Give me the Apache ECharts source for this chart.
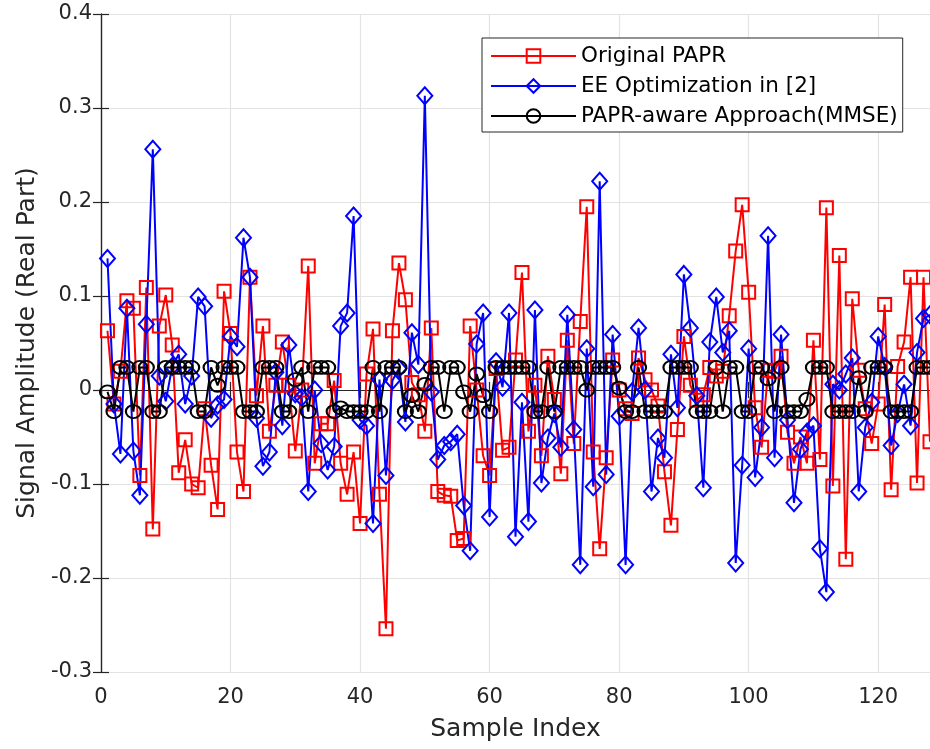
<!DOCTYPE html>
<html>
<head>
<meta charset="utf-8">
<script src="https://cdn.jsdelivr.net/npm/echarts@6/dist/echarts.min.js"></script>
<style>
html,body{margin:0;padding:0;background:#fff;}
#chart{width:930px;height:749px;}
</style>
</head>
<body>
<div id="chart"></div>
<script>
// ---- data ----
var seriesNames = ['Original PAPR', 'EE Optimization in [2]', 'PAPR-aware Approach(MMSE)'];
var xTicks = [0, 20, 40, 60, 80, 100, 120];
var yTicks = [-0.3, -0.2, -0.1, 0, 0.1, 0.2, 0.3, 0.4];

var originalPAPR = [
  0.063, -0.015, 0.020, 0.095, 0.087, -0.091, 0.109, -0.148, 0.068, 0.101,
  0.048, -0.088, -0.053, -0.100, -0.104, -0.020, -0.080, -0.127, 0.105, 0.060,
  -0.066, -0.108, 0.120, -0.006, 0.068, -0.044, 0.005, 0.051, 0.005, -0.065,
  0.000, 0.132, -0.078, -0.036, -0.036, 0.010, -0.078, -0.111, -0.066, -0.142,
  0.017, 0.065, -0.111, -0.254, 0.063, 0.135, 0.096, 0.008, -0.005, -0.044,
  0.066, -0.108, -0.112, -0.113, -0.160, -0.158, 0.068, 0.000, -0.070, -0.091,
  0.023, -0.064, -0.061, 0.032, 0.125, -0.044, 0.005, -0.070, 0.036, -0.010,
  -0.089, 0.053, -0.057, 0.073, 0.195, -0.066, -0.169, -0.072, 0.032, 0.000,
  -0.020, -0.025, 0.034, 0.011, 0.000, -0.017, -0.087, -0.144, -0.042, 0.057,
  0.005, -0.011, -0.005, 0.024, 0.015, 0.020, 0.079, 0.148, 0.197, 0.104,
  -0.019, -0.061, 0.021, 0.020, 0.036, -0.045, -0.078, -0.050, -0.078, 0.053,
  -0.074, 0.194, -0.102, 0.143, -0.180, 0.097, 0.021, -0.020, -0.057, -0.015,
  0.091, -0.106, 0.025, 0.051, 0.120, -0.099, 0.120, -0.055
];

var eeOptimization = [
  0.140, -0.015, -0.068, 0.087, -0.065, -0.112, 0.070, 0.256, 0.015, -0.012,
  0.025, 0.038, -0.015, 0.015, 0.099, 0.089, -0.030, -0.016, -0.010, 0.057,
  0.046, 0.162, 0.120, -0.030, -0.081, -0.066, 0.019, -0.038, 0.048, -0.004,
  -0.008, -0.108, 0.000, -0.057, -0.085, -0.060, 0.068, 0.082, 0.185, -0.032,
  -0.038, -0.142, 0.011, -0.091, 0.010, 0.023, -0.034, 0.061, 0.027, 0.313,
  -0.002, -0.074, -0.059, -0.055, -0.047, -0.123, -0.171, 0.049, 0.082, -0.135,
  0.030, 0.003, 0.082, -0.156, -0.013, -0.140, 0.085, -0.099, -0.051, -0.025,
  -0.061, 0.080, -0.042, -0.186, 0.044, -0.103, 0.222, -0.090, 0.059, -0.028,
  -0.186, -0.002, 0.066, 0.000, -0.108, -0.051, -0.072, 0.038, -0.019, 0.123,
  0.066, -0.006, -0.104, 0.051, 0.099, 0.040, 0.063, -0.184, -0.080, 0.044,
  -0.093, -0.040, 0.164, -0.072, 0.059, -0.032, -0.120, -0.063, -0.045, -0.038,
  -0.169, -0.215, 0.006, 0.000, 0.017, 0.034, -0.108, -0.040, -0.013, 0.057,
  0.025, -0.059, -0.025, 0.006, -0.038, 0.040, 0.076, 0.080
];

var paprAware = [
  -0.002, -0.023, 0.024, 0.024, -0.023, 0.024, 0.024, -0.023, -0.023, 0.024,
  0.024, 0.024, 0.024, 0.024, -0.023, -0.023, 0.024, 0.005, 0.024, 0.024,
  0.024, -0.023, -0.023, -0.023, 0.024, 0.024, 0.024, -0.023, -0.023, 0.011,
  0.024, -0.023, 0.024, 0.024, 0.024, -0.023, -0.019, -0.023, -0.023, -0.023,
  -0.023, 0.024, -0.023, 0.024, 0.024, 0.024, -0.023, -0.006, -0.023, 0.006,
  0.024, 0.024, -0.023, 0.024, 0.024, -0.002, -0.023, 0.017, -0.006, -0.023,
  0.024, 0.024, 0.024, 0.024, 0.024, 0.024, -0.023, -0.023, 0.024, -0.023,
  0.024, 0.024, 0.024, 0.024, 0.000, 0.024, 0.024, 0.024, 0.024, 0.002,
  -0.023, -0.023, 0.024, -0.023, -0.023, -0.023, -0.023, 0.024, 0.024, 0.024,
  0.024, -0.023, -0.023, -0.023, 0.024, -0.023, 0.024, 0.024, -0.023, -0.023,
  0.024, 0.024, 0.012, -0.023, 0.024, -0.023, -0.023, -0.023, -0.010, 0.024,
  0.024, 0.024, -0.023, -0.023, -0.023, -0.023, 0.013, -0.023, 0.024, 0.024,
  0.024, -0.023, -0.023, -0.023, -0.023, 0.024, 0.024, 0.024
];

// sample indices 1..N
var sampleIndex = originalPAPR.map(function (_, k) { return k + 1; });

function pairs(vals) { return vals.map(function (v, k) { return [sampleIndex[k], v]; }); }

var FONT = '"DejaVu Sans", Verdana, sans-serif';
var AX = '#262626';
var GRIDC = '#e3e3e3';

function mkSeries(name, vals, color, symbol, size) {
  return {
    name: name, type: 'line', data: pairs(vals),
    symbol: symbol, symbolSize: size, showAllSymbol: true,
    lineStyle: { color: color, width: 2 },
    itemStyle: { color: 'rgba(255,255,255,0)', borderColor: color, borderWidth: 2 },
    emphasis: { disabled: true },
    animation: false
  };
}

var chart = echarts.init(document.getElementById('chart'), null, { renderer: 'canvas' });
chart.setOption({
  animation: false,
  backgroundColor: '#fff',
  grid: { left: 101, top: 14, width: 834, height: 658, containLabel: false },
  legend: {
    orient: 'vertical', left: 482, top: 38,
    itemWidth: 85, itemHeight: 17, itemGap: 8,
    backgroundColor: '#fff', borderColor: AX, borderWidth: 1,
    padding: [7, 5, 5, 8],
    textStyle: { fontSize: 21.5, color: '#000', fontFamily: FONT },
    data: seriesNames
  },
  xAxis: [{
    type: 'value', min: 0, max: 128, interval: 20,
    name: 'Sample Index', nameLocation: 'middle', nameGap: 45,
    nameTextStyle: { fontSize: 25, color: '#262626', fontFamily: FONT },
    axisLine: { show: true, lineStyle: { color: AX, width: 1.2 } },
    axisTick: { show: true, inside: true, length: 8, lineStyle: { color: AX, width: 1.2 } },
    axisLabel: { fontSize: 21, color: '#262626', fontFamily: FONT, margin: 15, showMaxLabel: false,
      formatter: function (v) { return xTicks.indexOf(v) >= 0 ? String(v) : ''; } },
    splitLine: { show: true, lineStyle: { color: GRIDC, width: 1.2 } }
  }, {
    type: 'value', min: 0, max: 128, interval: 20, position: 'top',
    axisLine: { show: true, lineStyle: { color: AX, width: 1.2 } },
    axisTick: { show: true, inside: true, length: 8, lineStyle: { color: AX, width: 1.2 } },
    axisLabel: { show: false }, splitLine: { show: false }
  }],
  yAxis: [{
    type: 'value', min: -0.3, max: 0.4, interval: 0.1,
    name: 'Signal Amplitude (Real Part)', nameLocation: 'middle', nameGap: 58,
    nameTextStyle: { fontSize: 25, color: '#262626', fontFamily: FONT },
    axisLine: { show: true, lineStyle: { color: AX, width: 1.2 } },
    axisTick: { show: true, inside: true, length: 8, lineStyle: { color: AX, width: 1.2 } },
    axisLabel: { fontSize: 21, color: '#262626', fontFamily: FONT, margin: 9,
      formatter: function (v) { return String(+v.toFixed(1)); } },
    splitLine: { show: true, lineStyle: { color: GRIDC, width: 1.2 } }
  }, {
    type: 'value', min: -0.3, max: 0.4, interval: 0.1, position: 'right',
    axisLine: { show: true, lineStyle: { color: AX, width: 1.2 } },
    axisTick: { show: true, inside: true, length: 8, lineStyle: { color: AX, width: 1.2 } },
    axisLabel: { show: false }, splitLine: { show: false }
  }],
  series: [
    mkSeries(seriesNames[0], originalPAPR, '#ff0000', 'rect', 13),
    mkSeries(seriesNames[1], eeOptimization, '#0000ff', 'diamond', [15, 17]),
    mkSeries(seriesNames[2], paprAware, '#000000', 'circle', [15, 13])
  ]
});
</script>
</body>
</html>
